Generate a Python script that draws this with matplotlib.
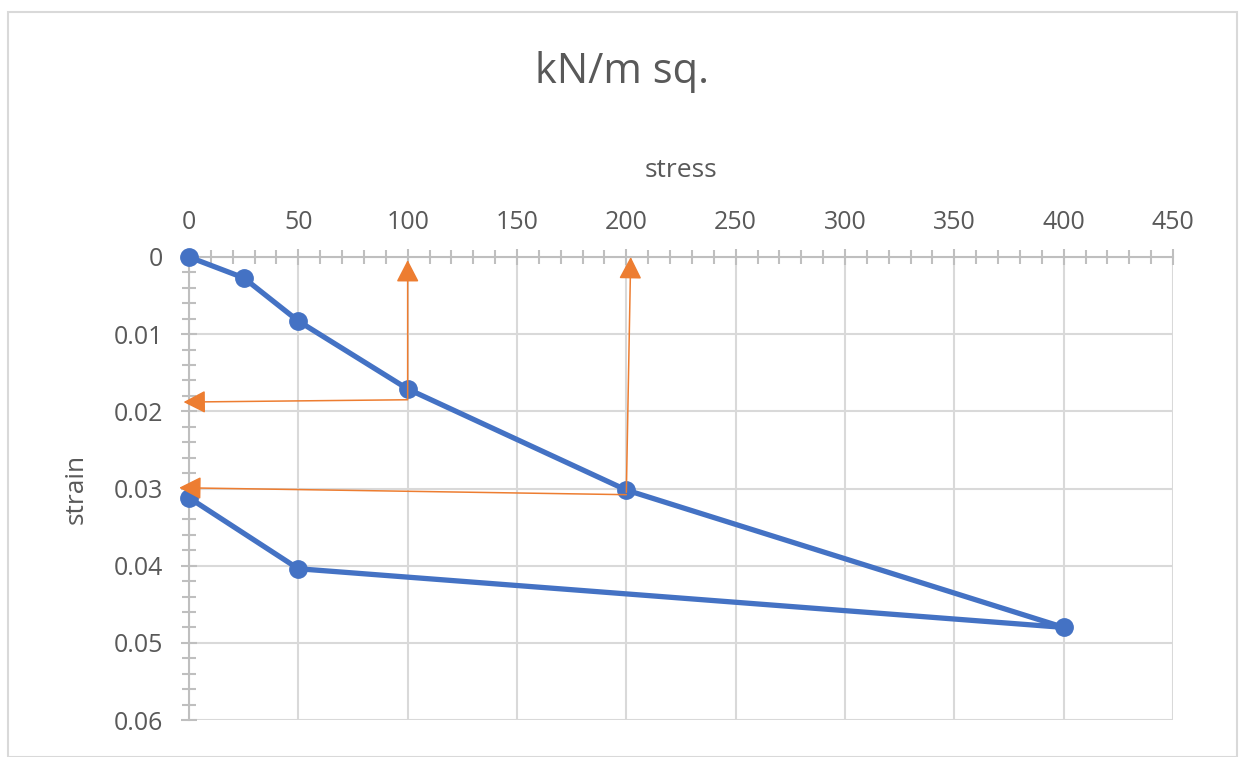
import numpy as np
import matplotlib.pyplot as plt
from matplotlib.ticker import MultipleLocator, FuncFormatter
from matplotlib.patches import Rectangle

# loading / unloading path
stress = [0, 25, 50, 100, 200, 400, 50, 0]
strain = [0, 0.0027, 0.0083, 0.0171, 0.0302, 0.048, 0.0404, 0.0312]

# orange construction arrows: (x start, y start, x tip, y tip)
arrows = [
    (100, 0.0184, 100, 0.0004),
    (100, 0.0185, -2.5, 0.0188),
    (200, 0.0305, 202, 0.0000),
    (200, 0.0308, -4.5, 0.0299),
]

xticks = [0, 50, 100, 150, 200, 250, 300, 350, 400, 450]
yticks = [0, 0.01, 0.02, 0.03, 0.04, 0.05, 0.06]

blue = '#4472C4'
orange = '#ED7D31'
txt = '#595959'
axcol = '#BFBFBF'
gridcol = '#D9D9D9'

plt.rcParams['font.family'] = ['Open Sans', 'DejaVu Sans']

fig = plt.figure(figsize=(12.44, 7.57), dpi=100)
# chart area border like Excel
fig.patches.append(Rectangle((8/1244, 0), 1229/1244, 1 - 12/757, transform=fig.transFigure,
                             fill=False, edgecolor='#D9D9D9', linewidth=1.5))

ax = fig.add_axes([189/1244, 1 - 720/757, (1173 - 189)/1244, (720 - 257)/757])

ax.plot(stress, strain, color=blue, linewidth=3.8, marker='o', markersize=12.5,
        zorder=5, solid_capstyle='round', clip_on=False)

for x0, y0, x1, y1 in arrows:
    a = ax.annotate('', xy=(x1, y1), xytext=(x0, y0), annotation_clip=False,
                    arrowprops=dict(arrowstyle='-|>,head_length=0.62,head_width=0.32',
                                    color=orange, lw=1.1,
                                    mutation_scale=22, shrinkA=0, shrinkB=0),
                    zorder=6)
    a.arrow_patch.set_clip_on(False)

ax.set_xlim(0, 450)
ax.set_ylim(0.06, 0)
ax.set_xticks(xticks)
ax.set_yticks(yticks)
ax.xaxis.set_minor_locator(MultipleLocator(10))
ax.yaxis.set_minor_locator(MultipleLocator(0.002))
ax.yaxis.set_major_formatter(FuncFormatter(lambda v, p: '%g' % v))

ax.xaxis.tick_top()
ax.xaxis.set_label_position('top')

for s in ['right', 'bottom']:
    ax.spines[s].set_visible(False)
for s in ['left', 'top']:
    ax.spines[s].set_color(axcol)
    ax.spines[s].set_linewidth(1.5)

ax.grid(True, which='major', color=gridcol, linewidth=1.5, zorder=0)
ax.set_axisbelow(True)

ax.tick_params(which='both', direction='inout', color=axcol, width=1.5, labelcolor=txt)
ax.tick_params(which='major', length=11, labelsize=18)
ax.tick_params(which='minor', length=10)
ax.tick_params(axis='x', which='major', pad=10)
ax.tick_params(axis='y', which='major', pad=13)

ax.set_xlabel('stress', fontsize=19, color=txt, labelpad=24)
ax.set_ylabel('strain', fontsize=19, color=txt, labelpad=18)

fig.text(0.5, 1 - 72/757, 'kN/m sq.', ha='center', va='center', fontsize=30, color=txt)

fig.savefig('out.png', dpi=100)
